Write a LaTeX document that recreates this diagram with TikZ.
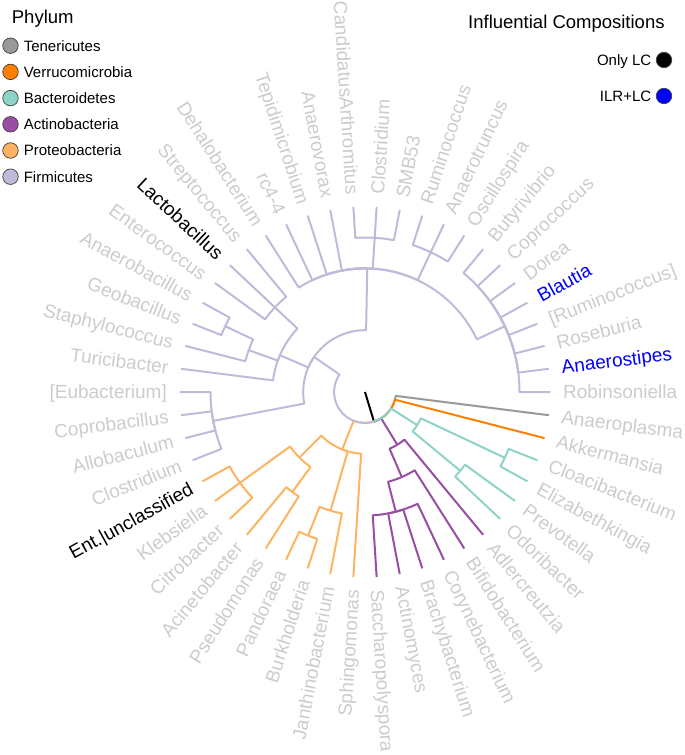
\documentclass[tikz,border=0pt]{standalone}
\usepackage{fontspec}
\setmainfont{Liberation Sans}
\usetikzlibrary{positioning}

\definecolor{tene}{HTML}{999999}
\definecolor{verr}{HTML}{FF7F00}
\definecolor{bact}{HTML}{8DD3C7}
\definecolor{acti}{HTML}{984EA3}
\definecolor{prot}{HTML}{FDB462}
\definecolor{firm}{HTML}{BEBADA}
\definecolor{pale}{HTML}{CCCCCC}

% one taxonomic rank
\def\lv{30.9pt}
% \branch{colour}{parent}{parent angle}{parent rank}{child angle}{child}
\newcommand\branch[6]{\draw[edge,#1] (#2) arc[start angle=#3,end angle=#5,radius={#4*\lv}] -- (#6);}

\tikzset{
  edge/.style={line width=2pt,line join=round},
  genus/.style={inner sep=0pt,text height=13.6pt,text depth=0pt,font=\fontsize{19}{19}\selectfont},
  key/.style={circle,draw=black!75,line width=0.7pt,minimum size=15.5pt,inner sep=0pt},
  keytext/.style={inner sep=0pt,text height=10.7pt,text depth=0pt,font=\fontsize{15}{15}\selectfont},
  heading/.style={anchor=base west,inner sep=0pt,font=\fontsize{18.5}{18.5}\selectfont}
}

\begin{document}
\begin{tikzpicture}[x=1pt,y=1pt]
\useasboundingbox (-365,-363) rectangle (320,392);

% tips and genus labels, counter-clockwise from Robinsoniella
\foreach \g/\c [count=\i from 0] in {Robinsoniella/pale,Anaerostipes/blue,Roseburia/pale,
  {[Ruminococcus]}/pale,Blautia/blue,Dorea/pale,Coprococcus/pale,Butyrivibrio/pale,
  Oscillospira/pale,Anaerotruncus/pale,Ruminococcus/pale,SMB53/pale,Clostridium/pale,
  CandidatusArthromitus/pale,Anaerovorax/pale,Tepidimicrobium/pale,rc4-4/pale,
  Dehalobacterium/pale,Streptococcus/pale,Lactobacillus/black,Enterococcus/pale,
  Anaerobacillus/pale,Geobacillus/pale,Staphylococcus/pale,Turicibacter/pale,
  {[Eubacterium]}/pale,Coprobacillus/pale,Allobaculum/pale,Clostridium/pale,
  Ent.|unclassified/black,Klebsiella/pale,Citrobacter/pale,Acinetobacter/pale,
  Pseudomonas/pale,Pandoraea/pale,Burkholderia/pale,Janthinobacterium/pale,
  Sphingomonas/pale,Saccharopolyspora/pale,Actinomyces/pale,Brachybacterium/pale,
  Corynebacterium/pale,Bifidobacterium/pale,Adlercreutzia/pale,Odoribacter/pale,
  Prevotella/pale,Elizabethkingia/pale,Cloacibacterium/pale,Akkermansia/pale,
  Anaeroplasma/pale}{
  \pgfmathsetmacro\a{7.2*\i}
  \coordinate (t\i) at (\a:{6*\lv});
  \ifnum\i<13 \node[genus,text=\c,anchor=west,rotate=\a] (g\i) at (\a:{6*\lv+12.6pt}) {\g};
  \else\ifnum\i<38 \node[genus,text=\c,anchor=east,rotate=\a-180] (g\i) at (\a:{6*\lv+12.6pt}) {\g};
  \else \node[genus,text=\c,anchor=west,rotate=\a] (g\i) at (\a:{6*\lv+12.6pt}) {\g};
  \fi\fi
}

\coordinate (bacteria) at (286.89:\lv);
\coordinate (firmicutes) at (145.46:{2*\lv});
\coordinate (clostridiales) at (88.97:{4*\lv});
\coordinate (lachno) at (25.2:{5*\lv});
\coordinate (rumino) at (64.8:{5*\lv});
\coordinate (clostridiaceae) at (86.4:{5*\lv});
\coordinate (bacilli) at (156.6:{3*\lv});
\coordinate (lactobacillales) at (136.8:{4*\lv});
\coordinate (bacillales) at (160.2:{4*\lv});
\coordinate (bacillaceae) at (154.8:{5*\lv});
\coordinate (erysipelo) at (190.8:{5*\lv});
\coordinate (proteo) at (248.4:{2*\lv});
\coordinate (gamma) at (225:{3*\lv});
\coordinate (enterobact) at (216:{5*\lv});
\coordinate (pseudomonadales) at (234:{4*\lv});
\coordinate (burkholderiales) at (253.8:{4*\lv});
\coordinate (burkholderiaceae) at (248.4:{5*\lv});
\coordinate (actino) at (301.5:{2*\lv});
\coordinate (actinobact) at (293.4:{3*\lv});
\coordinate (actinomycetales) at (284.4:{4*\lv});
\coordinate (bacteroidetes) at (327.6:{2*\lv});
\coordinate (bacteroidales) at (320.4:{4*\lv});
\coordinate (flavo) at (334.8:{5*\lv});

\draw[edge,black] (0,0) -- (bacteria);
\branch{tene}{bacteria}{286.89}{1}{352.8}{t49}
\branch{verr}{bacteria}{286.89}{1}{345.6}{t48}
\branch{acti}{bacteria}{286.89}{1}{301.5}{actino}
\branch{bact}{bacteria}{286.89}{1}{327.6}{bacteroidetes}
\branch{prot}{bacteria}{286.89}{1}{248.4}{proteo}
\branch{firm}{bacteria}{286.89}{1}{145.46}{firmicutes}

% Bacteroidetes
\branch{bact}{bacteroidetes}{327.6}{2}{320.4}{bacteroidales}
\branch{bact}{bacteroidetes}{327.6}{2}{334.8}{flavo}
\branch{bact}{bacteroidales}{320.4}{4}{316.8}{t44}
\branch{bact}{bacteroidales}{320.4}{4}{324}{t45}
\branch{bact}{flavo}{334.8}{5}{331.2}{t46}
\branch{bact}{flavo}{334.8}{5}{338.4}{t47}

% Actinobacteria
\branch{acti}{actino}{301.5}{2}{293.4}{actinobact}
\branch{acti}{actino}{301.5}{2}{309.6}{t43}
\branch{acti}{actinobact}{293.4}{3}{284.4}{actinomycetales}
\branch{acti}{actinobact}{293.4}{3}{302.4}{t42}
\foreach \k in {38,...,41}{\pgfmathsetmacro\a{7.2*\k}\branch{acti}{actinomycetales}{284.4}{4}{\a}{t\k}}

% Proteobacteria
\branch{prot}{proteo}{248.4}{2}{225}{gamma}
\branch{prot}{proteo}{248.4}{2}{253.8}{burkholderiales}
\branch{prot}{proteo}{248.4}{2}{266.4}{t37}
\branch{prot}{gamma}{225}{3}{216}{enterobact}
\branch{prot}{gamma}{225}{3}{234}{pseudomonadales}
\foreach \k in {29,30,31}{\pgfmathsetmacro\a{7.2*\k}\branch{prot}{enterobact}{216}{5}{\a}{t\k}}
\foreach \k in {32,33}{\pgfmathsetmacro\a{7.2*\k}\branch{prot}{pseudomonadales}{234}{4}{\a}{t\k}}
\branch{prot}{burkholderiales}{253.8}{4}{248.4}{burkholderiaceae}
\branch{prot}{burkholderiales}{253.8}{4}{259.2}{t36}
\foreach \k in {34,35}{\pgfmathsetmacro\a{7.2*\k}\branch{prot}{burkholderiaceae}{248.4}{5}{\a}{t\k}}

% Firmicutes
\branch{firm}{firmicutes}{145.46}{2}{88.97}{clostridiales}
\branch{firm}{firmicutes}{145.46}{2}{156.6}{bacilli}
\branch{firm}{firmicutes}{145.46}{2}{190.8}{erysipelo}
\foreach \k in {25,...,28}{\pgfmathsetmacro\a{7.2*\k}\branch{firm}{erysipelo}{190.8}{5}{\a}{t\k}}
\branch{firm}{bacilli}{156.6}{3}{136.8}{lactobacillales}
\branch{firm}{bacilli}{156.6}{3}{160.2}{bacillales}
\branch{firm}{bacilli}{156.6}{3}{172.8}{t24}
\foreach \k in {18,19,20}{\pgfmathsetmacro\a{7.2*\k}\branch{firm}{lactobacillales}{136.8}{4}{\a}{t\k}}
\branch{firm}{bacillales}{160.2}{4}{154.8}{bacillaceae}
\branch{firm}{bacillales}{160.2}{4}{165.6}{t23}
\foreach \k in {21,22}{\pgfmathsetmacro\a{7.2*\k}\branch{firm}{bacillaceae}{154.8}{5}{\a}{t\k}}
\branch{firm}{clostridiales}{88.97}{4}{25.2}{lachno}
\branch{firm}{clostridiales}{88.97}{4}{64.8}{rumino}
\branch{firm}{clostridiales}{88.97}{4}{86.4}{clostridiaceae}
\foreach \k in {14,...,17}{\pgfmathsetmacro\a{7.2*\k}\branch{firm}{clostridiales}{88.97}{4}{\a}{t\k}}
\foreach \k in {0,...,7}{\pgfmathsetmacro\a{7.2*\k}\branch{firm}{lachno}{25.2}{5}{\a}{t\k}}
\foreach \k in {8,9,10}{\pgfmathsetmacro\a{7.2*\k}\branch{firm}{rumino}{64.8}{5}{\a}{t\k}}
\foreach \k in {11,12,13}{\pgfmathsetmacro\a{7.2*\k}\branch{firm}{clostridiaceae}{86.4}{5}{\a}{t\k}}

% legends
\node[heading] (phylum) at (-353.3,368) {Phylum};
\foreach \p/\c [count=\j from 0] in {Tenericutes/tene,Verrucomicrobia/verr,Bacteroidetes/bact,
  Actinobacteria/acti,Proteobacteria/prot,Firmicutes/firm}{
  \node[key,fill=\c] (k\j) at (-354.5,{346.3-26.2*\j}) {};
  \node[keytext,right=5pt of k\j] (kt\j) {\p};
}
\node[heading] (influential) at (103,363) {Influential Compositions};
\node[key,fill=black] (onlylc) at (299,332) {};
\node[keytext,left=4.5pt of onlylc] (onlytext) {Only LC};
\node[key,fill=blue] (ilrlc) at (299,296) {};
\node[keytext,left=4.5pt of ilrlc] (ilrtext) {ILR+LC};
\end{tikzpicture}
\end{document}
